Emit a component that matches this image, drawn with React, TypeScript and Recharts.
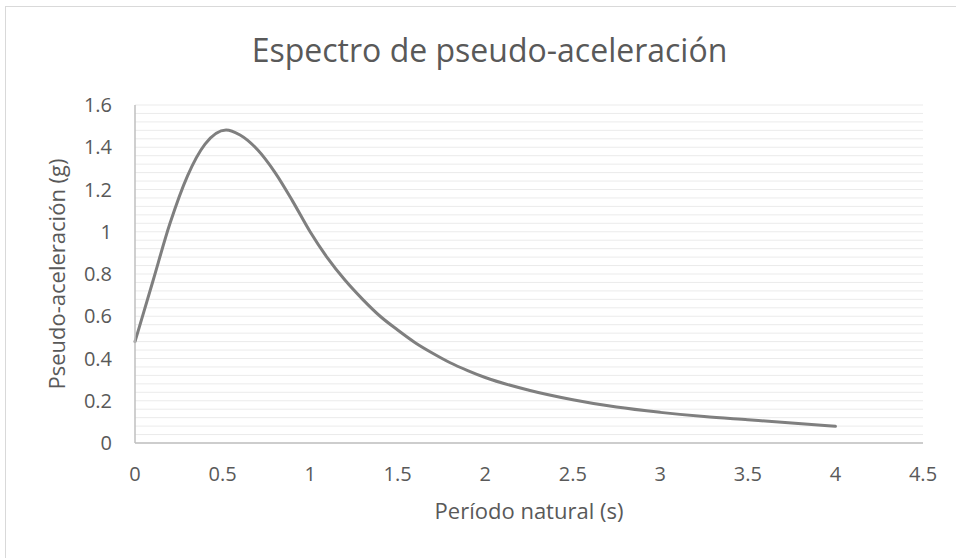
import React from "react";
import { LineChart, Line, XAxis, YAxis, CartesianGrid } from "recharts";

// Natural period (s)
const periods = [
  0, 0.1, 0.2, 0.3, 0.4, 0.52, 0.6, 0.7, 0.8, 0.9, 1.0, 1.1, 1.2, 1.3, 1.4,
  1.5, 1.6, 1.7, 1.8, 1.9, 2.0, 2.25, 2.5, 2.75, 3.0, 3.25, 3.5, 3.75, 4.0,
];

// Pseudo-acceleration (g)
const pseudoAccel = [
  0.48, 0.76, 1.04, 1.265, 1.415, 1.482, 1.458, 1.388, 1.28, 1.145, 1.0, 0.875,
  0.77, 0.68, 0.6, 0.535, 0.475, 0.425, 0.38, 0.343, 0.31, 0.25, 0.205, 0.17,
  0.145, 0.125, 0.11, 0.095, 0.079,
];

const xTicks = [0, 0.5, 1, 1.5, 2, 2.5, 3, 3.5, 4, 4.5];
const yTicks = [0, 0.2, 0.4, 0.6, 0.8, 1, 1.2, 1.4, 1.6];

const TITLE = "Espectro de pseudo-aceleración";
const X_TITLE = "Período natural (s)";
const Y_TITLE = "Pseudo-aceleración (g)";

const Y_MAX = 1.6;
const MINOR_STEP = 0.04;
const minorGrid = Array.from(
  { length: Math.round(Y_MAX / MINOR_STEP) + 1 },
  (_, i) => +(i * MINOR_STEP).toFixed(2)
);

const data = periods.map((t, i) => ({ t, sa: pseudoAccel[i] }));

const FONT = "'Open Sans', 'DejaVu Sans', sans-serif";
const TEXT = "#595959";

const gridCoords = (props: any) => {
  const s = props?.yAxis?.scale;
  if (typeof s === "function") return minorGrid.map((v) => s(v));
  const o = props.offset;
  return minorGrid.map((v) => o.top + o.height * (1 - v / Y_MAX));
};

export default function App() {
  return (
    <div
      style={{
        position: "absolute",
        left: 0,
        top: 0,
        width: 956,
        height: 558,
        overflow: "hidden",
        background: "#fff",
      }}
    >
      <div
        style={{
          position: "absolute",
          left: 5,
          top: 6,
          width: 1000,
          height: 600,
          border: "1px solid #d9d9d9",
        }}
      />
      <div style={{ position: "absolute", left: 0, top: 0 }}>
        <LineChart
          width={956}
          height={558}
          data={data}
          margin={{ top: 105, right: 33, bottom: 75, left: 75 }}
        >
          <CartesianGrid
            vertical={false}
            stroke="#ebebeb"
            strokeWidth={1}
            horizontalCoordinatesGenerator={gridCoords}
          />
          <XAxis
            dataKey="t"
            type="number"
            domain={[0, 4.5]}
            ticks={xTicks}
            height={40}
            tickLine={false}
            tickSize={0}
            tickMargin={24}
            axisLine={{ stroke: "#bfbfbf", strokeWidth: 1.5 }}
            tick={{ fill: TEXT, fontSize: 20, fontFamily: FONT }}
            allowDecimals
          />
          <YAxis
            type="number"
            domain={[0, Y_MAX]}
            ticks={yTicks}
            width={60}
            tickLine={false}
            tickSize={0}
            tickMargin={23}
            axisLine={{ stroke: "#bfbfbf", strokeWidth: 1.5 }}
            tick={{ fill: TEXT, fontSize: 20, fontFamily: FONT }}
          />
          <Line
            dataKey="sa"
            type="monotone"
            stroke="#7f7f7f"
            strokeWidth={3}
            strokeLinecap="round"
            dot={false}
            activeDot={false}
            isAnimationActive={false}
          />
        </LineChart>
      </div>
      <svg
        width={956}
        height={558}
        style={{ position: "absolute", left: 0, top: 0, pointerEvents: "none" }}
      >
        <text
          x={489.5}
          y={62}
          textAnchor="middle"
          fontSize={32}
          fontFamily={FONT}
          fill={TEXT}
        >
          {TITLE}
        </text>
        <text
          x={529}
          y={519}
          textAnchor="middle"
          fontSize={22}
          fontFamily={FONT}
          fill={TEXT}
        >
          {X_TITLE}
        </text>
        <text
          x={65}
          y={274}
          textAnchor="middle"
          fontSize={22}
          fontFamily={FONT}
          fill={TEXT}
          transform="rotate(-90 65 274)"
        >
          {Y_TITLE}
        </text>
      </svg>
    </div>
  );
}
